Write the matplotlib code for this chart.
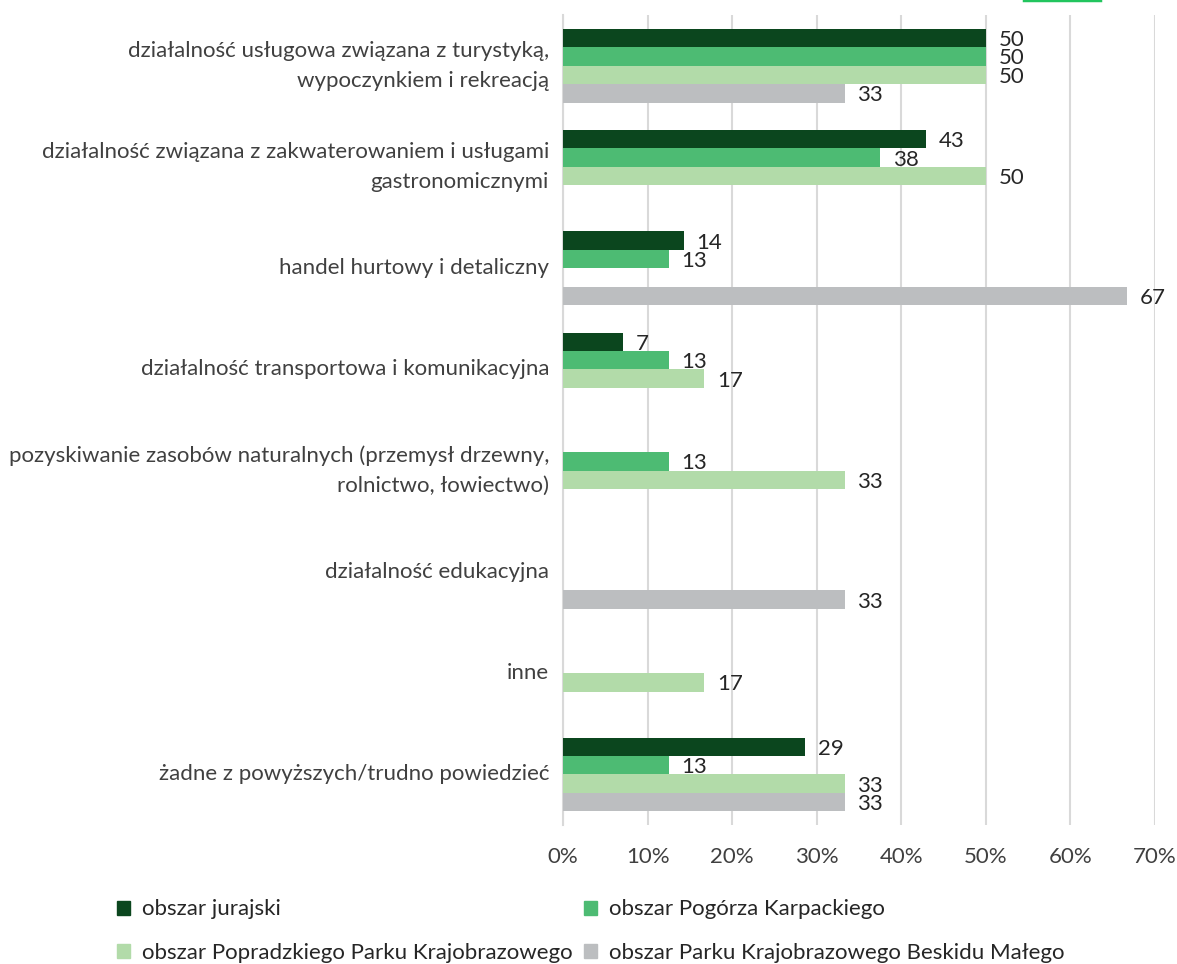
import matplotlib.pyplot as plt
import numpy as np
from matplotlib.lines import Line2D
from matplotlib.patches import Patch

plt.rcParams['font.family'] = ['Lato', 'DejaVu Sans']

categories = [
    'działalność usługowa związana z turystyką,\nwypoczynkiem i rekreacją',
    'działalność związana z zakwaterowaniem i usługami\ngastronomicznymi',
    'handel hurtowy i detaliczny',
    'działalność transportowa i komunikacyjna',
    'pozyskiwanie zasobów naturalnych (przemysł drzewny,\nrolnictwo, łowiectwo)',
    'działalność edukacyjna',
    'inne',
    'żadne z powyższych/trudno powiedzieć',
]
series = [
    'obszar jurajski',
    'obszar Pogórza Karpackiego',
    'obszar Popradzkiego Parku Krajobrazowego',
    'obszar Parku Krajobrazowego Beskidu Małego',
]
jurajski = [50, 42.9, 14.3, 7.1, None, None, None, 28.6]
pogorze = [50, 37.5, 12.5, 12.5, 12.5, None, None, 12.5]
popradzki = [50, 50, None, 16.7, 33.3, None, 16.7, 33.3]
beskid = [33.3, None, 66.7, None, None, 33.3, None, 33.3]
values = [jurajski, pogorze, popradzki, beskid]
colors = ['#0b461e', '#4dbb73', '#b2dba9', '#bcbec0']
ticks = [0, 10, 20, 30, 40, 50, 60, 70]

fig = plt.figure(figsize=(11.77, 9.64), dpi=100)
ax = fig.add_axes([0.4783, 0.1442, 0.5030, 0.8402])

h = 0.182
y = np.arange(len(categories))
for k, (vals, col) in enumerate(zip(values, colors)):
    off = (k - 1.5) * h
    for i, v in enumerate(vals):
        if v is None:
            continue
        ax.barh(y[i] + off, v, height=h, color=col, zorder=3)
        ax.text(v + 1.5, y[i] + off + 0.02, str(int(v + 0.5)), va='center', ha='left',
                fontsize=16, color='#262626', zorder=4)

ax.set_xlim(0, 70)
ax.set_ylim(len(categories) - 0.5, -0.5)
ax.set_xticks(ticks)
ax.set_xticklabels([f'{t}%' for t in ticks], fontsize=16, color='#404040')
ax.set_yticks(y)
ax.set_yticklabels(categories, fontsize=16, color='#404040', linespacing=1.62, va='center')
ax.tick_params(axis='both', length=0)
ax.tick_params(axis='y', pad=10)
ax.tick_params(axis='x', pad=16)
ax.grid(axis='x', color='#d9d9d9', lw=1.5, zorder=0)
for s in ['top', 'right', 'bottom']:
    ax.spines[s].set_visible(False)
ax.spines['left'].set_color('#d9d9d9')
ax.spines['left'].set_linewidth(1.5)

handles = [Patch(color=c) for c in colors]
order = [0, 2, 1, 3]
fig.legend([handles[i] for i in order], [series[i] for i in order],
           loc='upper left', bbox_to_anchor=(0.099, 0.067), ncol=2, frameon=False,
           fontsize=16, handlelength=0.6, handleheight=0.6, handletextpad=0.55,
           columnspacing=0.5, labelspacing=1.05, labelcolor='#262626',
           borderaxespad=0, borderpad=0)

fig.add_artist(Line2D([1024 / 1177, 1100 / 1177], [0.9995, 0.9995],
                      color='#22c55e', lw=2.5, transform=fig.transFigure))

fig.savefig('out.png', dpi=100)
